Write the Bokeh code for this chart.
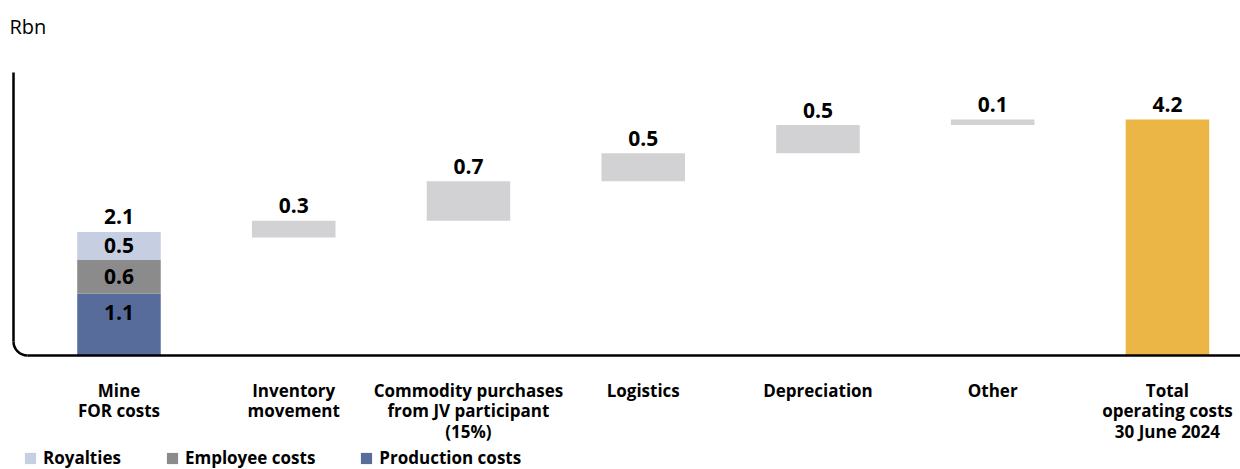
import numpy as np
from bokeh.plotting import figure
from bokeh.models import Range1d, ColumnDataSource, Legend, LegendItem
from bokeh.core.properties import value
from bokeh.embed import file_html
from bokeh.resources import INLINE

# --- data -------------------------------------------------------------
categories = [
    "Mine\nFOR costs",
    "Inventory\nmovement",
    "Commodity purchases\nfrom JV participant\n(15%)",
    "Logistics",
    "Depreciation",
    "Other",
    "Total\noperating costs\n30 June 2024",
]
mine_segments = ["Production costs", "Employee costs", "Royalties"]
mine_values = [1.1, 0.6, 0.5]
mine_total = 2.1
step_values = [0.3, 0.7, 0.5, 0.5, 0.1]
total_value = 4.2
unit_label = "Rbn"

# --- styling ----------------------------------------------------------
FONT = "Open Sans"
SEG_COLORS = ["#586C9C", "#8B8B8B", "#C6CEE2"]
STEP_COLOR = "#D2D2D4"
TOTAL_COLOR = "#EBB646"
BAR_W = 0.478
SEG_LABEL_SHIFT = [-12, 0, 0]   # lift the bottom segment's label a little

W, H = 1240, 469
x0, x1 = -0.678, 6.418          # category 0 centred ~118 px from the left
px_per_unit = 56.19
y1 = 355 / px_per_unit
y0 = -(H - 355) / px_per_unit
dx = (x1 - x0) / W
dy = (y1 - y0) / H

p = figure(width=W, height=H, x_range=Range1d(x0, x1), y_range=Range1d(y0, y1),
           x_axis_type=None, y_axis_type=None, toolbar_location=None,
           output_backend="svg", min_border=0, outline_line_color=None)
p.grid.visible = False

# --- stacked first bar ----------------------------------------------------
src = ColumnDataSource(dict(x=[0], **{name: [v] for name, v in zip(mine_segments, mine_values)}))
stack = p.vbar_stack(mine_segments, x="x", width=BAR_W, source=src,
                     color=SEG_COLORS, line_color=None)

cum = np.cumsum(mine_values)
mids = cum - np.array(mine_values) / 2
seg_src = ColumnDataSource(dict(x=[0] * len(mine_values), y=list(mids),
                                t=[f"{v:.1f}" for v in mine_values], off=SEG_LABEL_SHIFT))
p.text(x="x", y="y", text="t", y_offset="off", source=seg_src,
       text_font=value(FONT), text_font_style="bold", text_font_size="21px",
       text_align="center", text_baseline="middle", text_color="#000000")

# --- floating steps ---------------------------------------------------
bottoms = mine_total + np.concatenate([[0], np.cumsum(step_values)[:-1]])
tops = bottoms + np.array(step_values)
xs = list(range(1, 1 + len(step_values)))
p.vbar(x=xs, bottom=list(bottoms), top=list(tops), width=BAR_W,
       color=STEP_COLOR, line_color=None)

# --- total bar ----------------------------------------------------------
p.vbar(x=[6], bottom=[0], top=[total_value], width=BAR_W,
       color=TOTAL_COLOR, line_color=None)

# --- value labels above bars --------------------------------------------
lab_x = [0] + xs + [6]
lab_y = [float(cum[-1])] + list(tops) + [total_value]
lab_t = [f"{mine_total:.1f}"] + [f"{v:.1f}" for v in step_values] + [f"{total_value:.1f}"]
p.text(x=lab_x, y=lab_y, text=lab_t, y_offset=-15,
       text_font=value(FONT), text_font_style="bold", text_font_size="21px",
       text_align="center", text_baseline="alphabetic", text_color="#000000")

# --- category labels under the baseline ---------------------------------
p.text(x=list(range(len(categories))), y=[0] * len(categories), text=categories,
       y_offset=23, text_font=value(FONT), text_font_style="bold",
       text_font_size="17px", text_align="center", text_baseline="top",
       text_line_height=0.9, text_color="#000000")

# --- unit label ---------------------------------------------------------
p.text(x=[x0 + 9 * dx], y=[(355 - 26) / px_per_unit], text=[unit_label],
       text_font=value(FONT), text_font_size="20px", text_align="left",
       text_baseline="middle", text_color="#000000")

# --- rounded L-shaped axis frame ------------------------------------------
r = 14
ax = x0 + 13 * dx
p.line(x=[ax, ax], y=[(355 - 72) / px_per_unit, r * dy], line_color="#000000", line_width=2.5)
p.line(x=[ax + r * dx, x1], y=[0, 0], line_color="#000000", line_width=2.5)
p.arc(x=[ax + r * dx], y=[r * dy], radius=r, radius_units="screen",
      start_angle=np.pi, end_angle=1.5 * np.pi, line_color="#000000", line_width=2.5)

# --- legend -------------------------------------------------------------
items = [LegendItem(label=name, renderers=[rend])
         for name, rend in reversed(list(zip(mine_segments, stack)))]
legend = Legend(items=items, orientation="horizontal", location=(23, 0),
                glyph_width=14, glyph_height=14, label_standoff=6, spacing=44,
                padding=0, margin=0, border_line_color=None, background_fill_alpha=0,
                label_text_font=FONT, label_text_font_style="bold",
                label_text_font_size="17px", label_text_color="#000000")
p.add_layout(legend)

open("out.html", "w").write(file_html(p, INLINE))
